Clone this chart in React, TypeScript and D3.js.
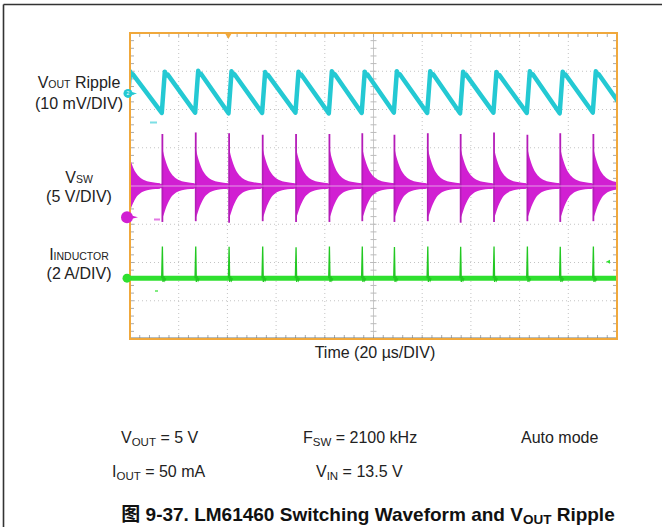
import React from "react";
import * as d3 from "d3";

// ---------- data ----------
// switching pulse instants (µs from left edge of screen, 20 µs/div, 10 div)
const pulseTimes = [-1.0, 13.3, 27.0, 40.7, 54.5, 68.2, 81.9, 95.4, 108.6, 122.3, 135.8, 149.5, 163.2, 176.7, 190.3, 204.0];
// VOUT ripple (mV) peak right after each pulse and valley just before it
const ripplePeak = [5.8, 5.7, 5.9, 5.8, 5.6, 5.7, 5.8, 5.7, 5.8, 5.8, 5.7, 5.6, 5.8, 5.7, 5.8, 5.7];
const rippleValley = [-5.0, -5.1, -5.0, -5.2, -5.1, -5.0, -5.2, -5.1, -5.0, -5.1, -5.2, -5.0, -5.1, -5.2, -5.0, -5.1];
// VSW (V): spike extremes for each pulse, baseline level, ringing envelope
const vswHigh = [10.6, 10.9, 11.1, 11.0, 10.8, 10.9, 10.9, 11.0, 10.8, 11.0, 10.9, 11.1, 10.8, 11.0, 10.9, 10.9];
const vswLow = [-0.5, -0.6, -0.5, -0.7, -0.5, -0.6, -0.6, -0.5, -0.6, -0.5, -0.7, -0.6, -0.5, -0.6, -0.5, -0.6];
const vswBase = 4.1;
const vswNoise = 0.3;
const ringTimes = [0.15, 0.6, 1.2, 2.2, 3.5, 5.0, 7.0, 9.0, 11.5, 13.2];
const ringUpper = [4.7, 4.1, 3.4, 2.5, 1.7, 1.15, 0.75, 0.55, 0.42, 0.35];
const ringLower = [4.1, 3.7, 3.1, 2.3, 1.5, 1.0, 0.66, 0.5, 0.4, 0.35];
// inductor current spike peaks (A)
const ilSpike = [1.6, 1.65, 1.66, 1.64, 1.66, 1.62, 1.65, 1.66, 1.63, 1.66, 1.64, 1.65, 1.66, 1.64, 1.65, 1.6];
const ilNoise = 0.13;

const timeDomain = [0, 200];
const xDivs = d3.range(0, 11);
const yDivs = d3.range(-4, 5);
const triggerTime = 40.4;

const leftLabels = [
  { main: "V", sub: "OUT", rest: " Ripple", y: 88 },
  { main: "(10 mV/DIV)", sub: "", rest: "", y: 109 },
  { main: "V", sub: "SW", rest: "", y: 182.5 },
  { main: "(5 V/DIV)", sub: "", rest: "", y: 202 },
  { main: "I", sub: "INDUCTOR", rest: "", y: 259.5 },
  { main: "(2 A/DIV)", sub: "", rest: "", y: 278.5 },
];

const condTexts = [
  { main: "V", sub: "OUT", rest: " = 5 V", x: 121, y: 443 },
  { main: "F", sub: "SW", rest: " = 2100 kHz", x: 303, y: 443 },
  { main: "Auto mode", sub: "", rest: "", x: 521, y: 443 },
  { main: "I", sub: "OUT", rest: " = 50 mA", x: 112, y: 476.5 },
  { main: "V", sub: "IN", rest: " = 13.5 V", x: 316, y: 476.5 },
];

// ---------- layout ----------
const W = 662, H = 527;
const L = 130, R = 617, T = 33, B = 339;
const CYAN = "#24c9d3";
const MAG = "#d11fd2";
const GRN = "#2fe02f";
const ORANGE = "#f0a83c";

const channels = {
  vout: { offset: 2.42, perDiv: 10 },
  vsw: { offset: -0.82, perDiv: 5 },
  il: { offset: -2.41, perDiv: 2 },
};

export default function App() {
  const x = d3.scaleLinear().domain(timeDomain).range([L, R]);
  const yDiv = d3.scaleLinear().domain([4, -4]).range([T, B]);
  const yCh = (ch: { offset: number; perDiv: number }) => (v: number) => yDiv(ch.offset + v / ch.perDiv);
  const yV = yCh(channels.vout);
  const yS = yCh(channels.vsw);
  const yI = yCh(channels.il);

  // VOUT ripple sawtooth
  const ripplePts: [number, number][] = [];
  pulseTimes.forEach((t, k) => {
    ripplePts.push([t - 0.25, rippleValley[k]]);
    ripplePts.push([t + 1.0, ripplePeak[k]]);
    ripplePts.push([t + 1.6, ripplePeak[k] - 1.0]);
    ripplePts.push([t + 2.2, ripplePeak[k] - 0.8]);
  });
  const rippleLine = d3.line<[number, number]>().x((d) => x(d[0])).y((d) => yV(d[1]))(ripplePts) || "";

  // VSW ringing envelopes
  const ringPaths = pulseTimes.map((t) => {
    const a = d3
      .area<number>()
      .curve(d3.curveMonotoneX)
      .x((d) => x(t + d))
      .y0((_, i) => yS(vswBase - ringLower[i]))
      .y1((_, i) => yS(vswBase + ringUpper[i]));
    return a(ringTimes) || "";
  });
  const vswBand = d3
    .area<number>()
    .x((d) => x(d))
    .y0(() => yS(vswBase - vswNoise))
    .y1(() => yS(vswBase + vswNoise))(timeDomain) || "";

  // inductor current
  const ilBand = d3
    .area<number>()
    .x((d) => x(d))
    .y0(() => yI(-ilNoise))
    .y1(() => yI(ilNoise))(timeDomain) || "";
  const ilLine = d3.line<[number, number]>().x((d) => x(d[0])).y((d) => yI(d[1]));

  const minorX = d3.range(0, 50.001).map((i) => L + (i * (R - L)) / 50);
  const minorY = d3.range(0, 40.001).map((i) => T + (i * (B - T)) / 40);
  const cx = x(100);
  const cy = yDiv(0);

  const font = "'Liberation Sans', Arial, Helvetica, sans-serif";

  return (
    <svg width={W} height={H} style={{ position: "absolute", left: 0, top: 0, background: "#fff" }} fontFamily={font}>
      <defs>
        <clipPath id="scr">
          <rect x={L} y={T} width={R - L} height={B - T} />
        </clipPath>
      </defs>
      {/* outer document frame */}
      <line x1={3.5} y1={4.5} x2={W} y2={4.5} stroke="#333" strokeWidth={1.6} />
      <line x1={3.5} y1={4.5} x2={3.5} y2={H} stroke="#333" strokeWidth={1.6} />

      {/* graticule */}
      <g>
        {xDivs.filter((d) => d !== 0 && d !== 10 && d !== 5).map((d) => (
          <line key={"vx" + d} x1={x(d * 20)} x2={x(d * 20)} y1={T} y2={B} stroke="#c4c4c4" strokeWidth={1} strokeDasharray="1,3" />
        ))}
        {yDivs.filter((d) => d !== -4 && d !== 4 && d !== 0).map((d) => (
          <line key={"hy" + d} x1={L} x2={R} y1={yDiv(d)} y2={yDiv(d)} stroke="#c4c4c4" strokeWidth={1} strokeDasharray="1,3" />
        ))}
        <line x1={cx} x2={cx} y1={T} y2={B} stroke="#c9c9c9" strokeWidth={1} />
        <line x1={L} x2={R} y1={cy} y2={cy} stroke="#c9c9c9" strokeWidth={1} />
        {minorX.map((mx, i) => (
          <g key={"mx" + i}>
            <line x1={mx} x2={mx} y1={T} y2={T + 4} stroke="#aaa" strokeWidth={1} />
            <line x1={mx} x2={mx} y1={B - 4} y2={B} stroke="#aaa" strokeWidth={1} />
            <line x1={mx} x2={mx} y1={cy - 3} y2={cy + 3} stroke="#bbb" strokeWidth={1} />
          </g>
        ))}
        {minorY.map((my, i) => (
          <g key={"my" + i}>
            <line x1={L} x2={L + 4} y1={my} y2={my} stroke="#aaa" strokeWidth={1} />
            <line x1={R - 4} x2={R} y1={my} y2={my} stroke="#aaa" strokeWidth={1} />
            <line x1={cx - 3} x2={cx + 3} y1={my} y2={my} stroke="#bbb" strokeWidth={1} />
          </g>
        ))}
      </g>

      {/* traces */}
      <g clipPath="url(#scr)">
        <path d={rippleLine} fill="none" stroke={CYAN} strokeWidth={4.5} strokeLinejoin="round" />
        <path d={vswBand} fill={MAG} />
        {ringPaths.map((p, k) => (
          <path key={"r" + k} d={p} fill={MAG} />
        ))}
        {pulseTimes.map((t, k) => (
          <line key={"s" + k} x1={x(t)} x2={x(t)} y1={yS(vswHigh[k])} y2={yS(vswLow[k])} stroke="#b41cb8" strokeWidth={1.8} />
        ))}
        <line x1={L} x2={R} y1={cy} y2={cy} stroke="#f4e4f4" strokeWidth={0.8} opacity={0.8} />
        <path d={ilBand} fill={GRN} />
        {pulseTimes.map((t, k) => (
          <path
            key={"i" + k}
            d={ilLine([[t - 0.3, 0], [t, ilSpike[k]], [t + 0.25, -0.2], [t + 0.6, 0.1], [t + 1.0, -0.12], [t + 1.4, 0]]) || ""}
            fill="none"
            stroke="#22c822"
            strokeWidth={1.3}
          />
        ))}
      </g>

      {/* scope frame */}
      <line x1={L} x2={R} y1={B - 1} y2={B - 1} stroke="#6f7d80" strokeWidth={1.2} />
      <rect x={L} y={T} width={R - L} height={B - T} fill="none" stroke={ORANGE} strokeWidth={2} />
      <path d={`M${x(triggerTime) - 3.5},${T} L${x(triggerTime) + 3.5},${T} L${x(triggerTime)},${T + 6} Z`} fill={ORANGE} />

      {/* channel markers */}
      <g>
        <circle cx={128} cy={yV(0)} r={4.5} fill={CYAN} />
        <path d={`M132,${yV(0) - 1.5} L137,${yV(0)} L132,${yV(0) + 1.5} Z`} fill={CYAN} />
        <text x={128} y={yV(0) + 1.8} fontSize={5} fill="#fff" textAnchor="middle">2</text>
        <rect x={150} y={121.5} width={7} height={2} fill={CYAN} opacity={0.6} />

        <circle cx={127} cy={yS(0)} r={6} fill={MAG} />
        <path d={`M132,${yS(0) - 1.5} L138,${yS(0)} L132,${yS(0) + 1.5} Z`} fill={MAG} />
        <rect x={154} y={218.5} width={6} height={2} fill={MAG} opacity={0.6} />

        <circle cx={127} cy={yI(0)} r={4.5} fill={GRN} />
        <rect x={155} y={290} width={3} height={2} fill={GRN} opacity={0.6} />
        <path d={`M606,261.7 L610,259.7 L610,263.7 Z`} fill={GRN} />
      </g>

      {/* left labels */}
      {leftLabels.map((l, i) => (
        <text key={"l" + i} x={79} y={l.y} fontSize={16} textAnchor="middle" fill="#222">
          {l.main}
          {l.sub && <tspan fontSize={10.5}>{l.sub}</tspan>}
          {l.rest && <tspan>{l.rest}</tspan>}
        </text>
      ))}

      <text x={375} y={357.5} fontSize={16} textAnchor="middle" fill="#222">
        Time (20 µs/DIV)
      </text>

      {condTexts.map((c, i) => (
        <text key={"c" + i} x={c.x} y={c.y} fontSize={16} fill="#222">
          {c.main}
          {c.sub && (
            <tspan fontSize={11.5} dy={3}>
              {c.sub}
            </tspan>
          )}
          {c.rest && <tspan dy={c.sub ? -3 : 0}>{c.rest}</tspan>}
        </text>
      ))}

      <text x={368} y={520.5} fontSize={19} fontWeight="bold" textAnchor="middle" fill="#111">
        <tspan fontFamily="'Noto Sans CJK SC', sans-serif">图</tspan>
        <tspan> 9-37. LM61460 Switching Waveform and V</tspan>
        <tspan fontSize={13.5} dy={3}>OUT</tspan>
        <tspan dy={-3}> Ripple</tspan>
      </text>
    </svg>
  );
}
